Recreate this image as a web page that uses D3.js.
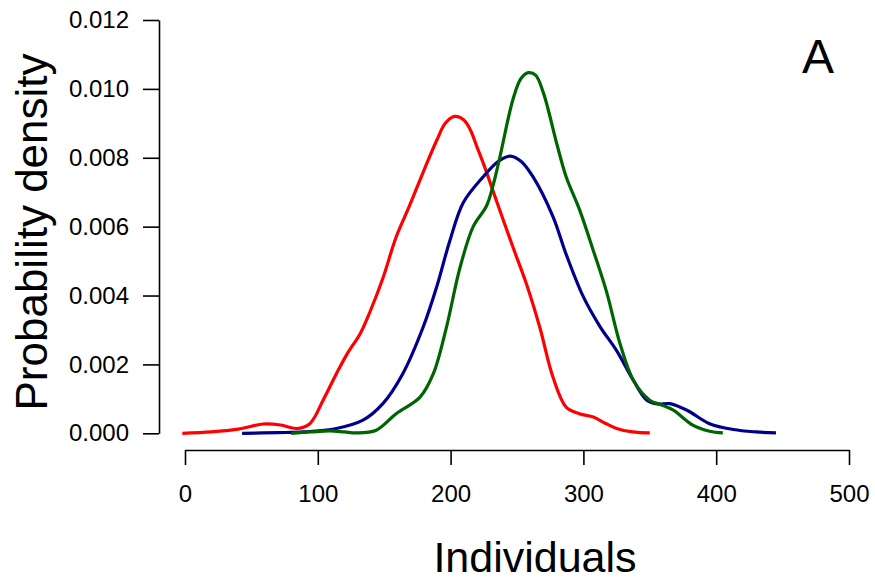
<!DOCTYPE html>
<html>
<head>
<meta charset="utf-8">
<script src="https://cdn.jsdelivr.net/npm/d3@7"></script>
<style>
  html, body { margin: 0; padding: 0; background: #fff; }
  svg { display: block; font-family: "Liberation Sans", Arial, Helvetica, sans-serif; }
</style>
</head>
<body>
<svg id="chart" width="875" height="580"></svg>
<script>
// Kernel density estimates of population size (individuals) for three scenarios
const redX = [-2, 20, 40, 59, 72, 84, 94, 104, 114, 122, 132, 139, 149, 159, 169, 179, 189.5, 196, 203, 210, 215, 220, 225, 235, 247, 257, 267, 277, 287, 297, 307.5, 316, 325, 337, 350];
const redY = [0, 0.00004, 0.00012, 0.00027, 0.00024, 0.00014, 0.00028, 0.00096, 0.00173, 0.0023, 0.0029, 0.0035, 0.0045, 0.0057, 0.0066, 0.00755, 0.0085, 0.0090, 0.0092, 0.0091, 0.0088, 0.0083, 0.0078, 0.0067, 0.0054, 0.00435, 0.0031, 0.00164, 0.00076, 0.00057, 0.00047, 0.00030, 0.00014, 0.00004, 0.00001];

const blueX = [43, 70, 89, 114, 134, 149, 164, 179.5, 189.5, 199.5, 209.6, 224.6, 236, 245, 253, 262, 277, 287, 300, 312.5, 325, 337.6, 347.7, 356, 365, 378, 395, 413, 430, 445];
const blueY = [0, 0.00002, 0.00004, 0.00014, 0.00038, 0.00086, 0.00173, 0.0031, 0.00425, 0.0056, 0.0067, 0.00745, 0.0079, 0.00805, 0.0079, 0.00745, 0.0063, 0.0052, 0.00396, 0.0031, 0.0024, 0.00154, 0.00096, 0.00085, 0.00086, 0.00067, 0.00028, 0.00011, 0.00004, 0.00001];

const greenX = [80, 95, 109, 120, 129, 144, 159, 177, 187, 197, 207, 217, 227, 232, 237, 247, 253, 258.5, 264, 270, 280, 287, 297, 307.5, 317.5, 327.6, 337.6, 350, 359, 367.7, 382.7, 395, 405];
const greenY = [0, 0.00004, 0.00007, 0.00004, 0.00001, 0.00009, 0.00057, 0.00105, 0.00173, 0.0031, 0.0048, 0.006, 0.0066, 0.0072, 0.0080, 0.0097, 0.0103, 0.01047, 0.0104, 0.00987, 0.0084, 0.00745, 0.0065, 0.0053, 0.0041, 0.0026, 0.00154, 0.00096, 0.00082, 0.00067, 0.00023, 0.00006, 0.00001];

const xTicks = [0, 100, 200, 300, 400, 500];
const yTicks = [0, 0.002, 0.004, 0.006, 0.008, 0.010, 0.012];

const seriesNames = ["red", "blue", "green"];
const seriesColors = ["#ff0000", "#00008b", "#006400"];

const svg = d3.select("#chart");

const x = d3.scaleLinear().domain([0, 500]).range([185, 849]);
const y = d3.scaleLinear().domain([0, 0.012]).range([433.3, 20]);

// y axis
const yAxis = d3.axisLeft(y)
  .tickValues(yTicks)
  .tickFormat(d3.format(".3f"))
  .tickSize(16)
  .tickSizeOuter(0)
  .tickPadding(14);
const gy = svg.append("g").attr("transform", "translate(159,0)").call(yAxis);

// x axis, offset below the plotting area
const xAxis = d3.axisBottom(x)
  .tickValues(xTicks)
  .tickFormat(d3.format("d"))
  .tickSize(15)
  .tickSizeOuter(0)
  .tickPadding(20);
const gx = svg.append("g").attr("transform", "translate(0,450)").call(xAxis);

[gx, gy].forEach(g => {
  g.selectAll("path, line").attr("stroke", "#000").attr("stroke-width", 1.6);
  g.selectAll("text").attr("fill", "#000").style("font-size", "24px")
    .style("font-family", "'Liberation Sans', Arial, Helvetica, sans-serif");
});

// density curves
const line = d3.line()
  .x(d => x(d[0]))
  .y(d => y(d[1]))
  .curve(d3.curveCatmullRom.alpha(0.5));

const series = [
  d3.zip(redX, redY),
  d3.zip(blueX, blueY),
  d3.zip(greenX, greenY)
];

svg.append("g").selectAll("path")
  .data(series)
  .join("path")
  .attr("class", (d, i) => "curve " + seriesNames[i])
  .attr("d", line)
  .attr("fill", "none")
  .attr("stroke", (d, i) => seriesColors[i])
  .attr("stroke-width", 3.2)
  .attr("stroke-linejoin", "round")
  .attr("stroke-linecap", "butt");

// axis titles
svg.append("text")
  .attr("x", 535).attr("y", 572)
  .attr("text-anchor", "middle")
  .style("font-size", "43px")
  .text("Individuals");

svg.append("text")
  .attr("transform", "translate(47,232) rotate(-90)")
  .attr("text-anchor", "middle")
  .style("font-size", "44px")
  .text("Probability density");

// panel letter
svg.append("text")
  .attr("x", 818).attr("y", 73)
  .attr("text-anchor", "middle")
  .style("font-size", "48px")
  .text("A");
</script>
</body>
</html>
